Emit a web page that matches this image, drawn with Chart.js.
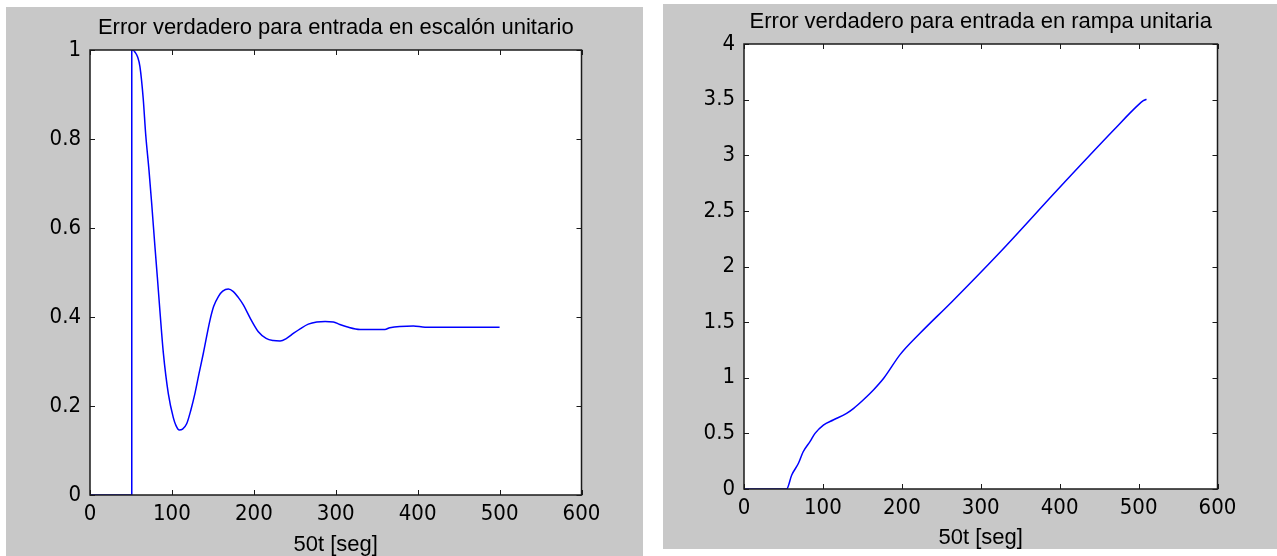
<!DOCTYPE html>
<html lang="es">
<head>
<meta charset="UTF-8">
<title>Error verdadero</title>
<script src="https://cdn.jsdelivr.net/npm/chart.js"></script>
<style>
  body { margin: 0; background: #fff; width: 1277px; height: 556px; overflow: hidden; position: relative; }
  .panel { position: absolute; background: #c8c8c8; }
  #p1 { left: 6px; top: 7px; }
  #p2 { left: 663px; top: 4px; }
</style>
</head>
<body>
<div class="panel" id="p1"><canvas id="chartStep" width="637" height="549"></canvas></div>
<div class="panel" id="p2"><canvas id="chartRamp" width="614" height="545"></canvas></div>
<script>
// escalón unitario: tramo en cero + salto, luego la respuesta
const stepJumpX = [0, 51, 51];
const stepJumpY = [0, 0, 1];
const stepX = [51, 53, 55, 58, 61, 65, 68, 72, 75.3, 79.4, 82.2, 85.5, 89.5, 95.6, 101.7, 105, 109, 113, 118, 123, 128.2, 133, 138.3, 146.5, 151, 156.7, 162, 168.9, 175, 181, 187.2, 196, 205.5, 215, 223.8, 232, 240, 248.2, 257, 266.5, 276.8, 287, 297.1, 305, 313.4, 329.7, 360, 366, 394.8, 409, 500];
const stepY = [1, 0.999, 0.995, 0.985, 0.962, 0.89, 0.81, 0.73, 0.655, 0.555, 0.49, 0.41, 0.32, 0.228, 0.174, 0.156, 0.146, 0.148, 0.16, 0.19, 0.229, 0.272, 0.318, 0.393, 0.424, 0.446, 0.458, 0.463, 0.457, 0.444, 0.427, 0.396, 0.367, 0.352, 0.347, 0.346, 0.352, 0.363, 0.374, 0.384, 0.389, 0.39, 0.389, 0.383, 0.378, 0.372, 0.372, 0.376, 0.38, 0.377, 0.377];

// rampa unitaria
const rampX = [0, 54, 60.5, 69, 75, 84, 90, 100.6, 113, 130, 139, 151, 164, 177, 198, 223, 263.5, 325, 397, 468.5, 500, 506, 510];
const rampY = [0, 0, 0.126, 0.231, 0.335, 0.43, 0.5, 0.575, 0.62, 0.68, 0.725, 0.80, 0.89, 0.995, 1.21, 1.40, 1.684, 2.133, 2.688, 3.227, 3.455, 3.49, 3.503];

const titles = ['Error verdadero para entrada en escalón unitario', 'Error verdadero para entrada en rampa unitaria'];
const xLabel = '50t [seg]';
const xMax = 600, xStep = 100;
const stepYMax = 1, stepYStep = 0.2;
const rampYMax = 4, rampYStep = 0.5;

// caja estilo matlab: fondo blanco, borde y marcas hacia adentro
const boxPlugin = {
  id: 'box',
  beforeDraw(chart) {
    const a = chart.chartArea, c = chart.ctx;
    c.save();
    c.fillStyle = '#fff';
    c.fillRect(a.left, a.top, a.right - a.left, a.bottom - a.top);
    c.restore();
  },
  afterDraw(chart) {
    const a = chart.chartArea, c = chart.ctx;
    const xs = chart.scales.x, ys = chart.scales.y;
    c.save();
    c.strokeStyle = '#1a1a1a';
    c.lineWidth = 1;
    c.beginPath();
    xs.ticks.forEach(t => {
      const px = Math.round(xs.getPixelForValue(t.value)) + 0.5;
      c.moveTo(px, a.bottom); c.lineTo(px, a.bottom - 5);
      c.moveTo(px, a.top); c.lineTo(px, a.top + 5);
    });
    ys.ticks.forEach(t => {
      const py = Math.round(ys.getPixelForValue(t.value)) + 0.5;
      c.moveTo(a.left, py); c.lineTo(a.left + 5, py);
      c.moveTo(a.right, py); c.lineTo(a.right - 5, py);
    });
    c.stroke();
    c.lineWidth = 1.5;
    c.strokeRect(a.left, a.top, a.right - a.left, a.bottom - a.top);
    c.restore();
  }
};

function toPts(xs, ys) {
  return xs.map((x, i) => ({ x: x, y: ys[i] }));
}

function lineSet(pts, smooth) {
  return {
    data: pts,
    borderColor: '#0000ff',
    borderWidth: 1.5,
    pointRadius: 0,
    cubicInterpolationMode: smooth ? 'monotone' : 'default',
    tension: 0,
    fill: false
  };
}

// padL + axisW = borde izquierdo del área; el eje derecho vacío (axisW) centra el título sobre la caja
function makeChart(id, sets, title, yMax, yStep, padL, axisW, padR, titlePad, xHeight) {
  return new Chart(document.getElementById(id), {
    type: 'line',
    data: { datasets: sets },
    options: {
      responsive: false,
      animation: false,
      devicePixelRatio: 1,
      layout: { padding: { left: padL, right: padR, top: 0, bottom: 0 } },
      plugins: {
        legend: { display: false },
        tooltip: { enabled: false },
        title: {
          display: true,
          text: title,
          color: '#000',
          font: { family: "'Liberation Sans', Arial, sans-serif", size: 22, weight: 'normal', lineHeight: 1.2 },
          padding: titlePad
        }
      },
      scales: {
        x: {
          type: 'linear',
          min: 0,
          max: xMax,
          border: { display: false },
          grid: { display: false, drawTicks: false },
          ticks: {
            stepSize: xStep,
            autoSkip: false,
            maxRotation: 0,
            padding: 6,
            color: '#000',
            font: { family: "'Liberation Sans Narrow', 'DejaVu Sans Condensed', sans-serif", size: 22 }
          },
          title: {
            display: true,
            text: xLabel,
            color: '#000',
            padding: 0,
            font: { family: "'Liberation Sans', Arial, sans-serif", size: 22, lineHeight: 1 }
          },
          afterFit(s) { s.height = xHeight; }
        },
        y: {
          min: 0,
          max: yMax,
          border: { display: false },
          grid: { display: false, drawTicks: false },
          ticks: {
            stepSize: yStep,
            padding: 9,
            color: '#000',
            font: { family: "'Liberation Sans Narrow', 'DejaVu Sans Condensed', sans-serif", size: 22 },
            callback: v => String(Number(v.toFixed(1)))
          },
          afterFit(s) { s.width = axisW; }
        },
        y2: {
          position: 'right',
          min: 0,
          max: yMax,
          border: { display: false },
          grid: { display: false, drawTicks: false },
          ticks: { display: false },
          afterFit(s) { s.width = axisW; }
        }
      }
    },
    plugins: [boxPlugin]
  });
}

makeChart('chartStep',
  [lineSet(toPts(stepJumpX, stepJumpY), false), lineSet(toPts(stepX, stepY), true)],
  titles[0], stepYMax, stepYStep, 39, 45, 16.5, { top: 8, bottom: 8.6 }, 61);
makeChart('chartRamp',
  [lineSet(toPts(rampX, rampY), true)],
  titles[1], rampYMax, rampYStep, 36, 45, 14.5, { top: 5, bottom: 8.6 }, 60);
</script>
</body>
</html>
